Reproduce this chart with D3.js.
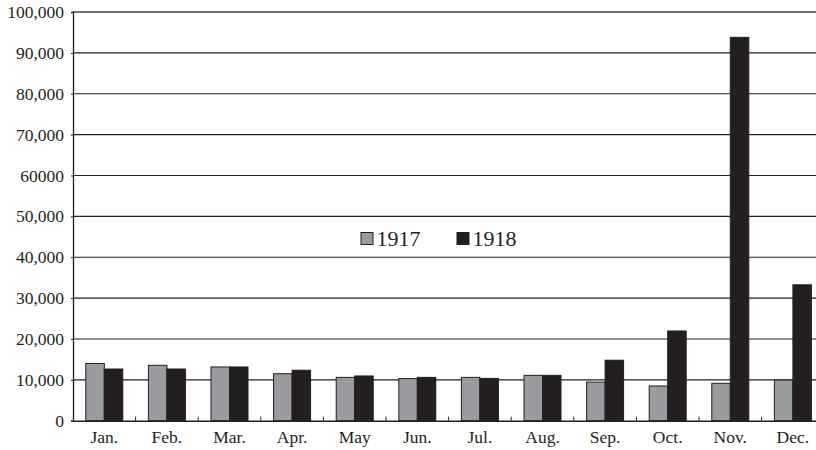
<!DOCTYPE html>
<html>
<head>
<meta charset="utf-8">
<script src="https://cdn.jsdelivr.net/npm/d3@7"></script>
<style>
  html, body { margin: 0; padding: 0; background: #fff; }
  svg { display: block; }
</style>
</head>
<body>
<svg id="chart" width="816" height="450"></svg>
<script>
const months = ["Jan.", "Feb.", "Mar.", "Apr.", "May", "Jun.", "Jul.", "Aug.", "Sep.", "Oct.", "Nov.", "Dec."];
const seriesNames = ["1917", "1918"];
const values1917 = [14000, 13550, 13150, 11500, 10600, 10300, 10600, 11100, 9450, 8500, 9150, 9950];
const values1918 = [12650, 12650, 13150, 12350, 10950, 10600, 10350, 11100, 14800, 21950, 93800, 33250];
const yTicks = [0, 10000, 20000, 30000, 40000, 50000, 60000, 70000, 80000, 90000, 100000];
const yTickLabels = ["0", "10,000", "20,000", "30,000", "40,000", "50,000", "60000", "70,000", "80,000", "90,000", "100,000"];
const colors = ["#9a9b9f", "#231f20"];

(function () {
const svg = d3.select("#chart");
const mLeft = 73, mTop = 12, mBottom = 420.7;
const bandW = 62.6;
const mRight = mLeft + bandW * months.length;

const x0 = d3.scaleBand().domain(months).range([mLeft, mRight]).paddingInner(0).paddingOuter(0);
const barW = 18.5;
const x1 = d3.scaleBand().domain(seriesNames).range([x0.bandwidth() / 2 - barW, x0.bandwidth() / 2 + barW]);
const y = d3.scaleLinear().domain([0, 100000]).range([mBottom, mTop]);

const font = "'Liberation Serif', 'DejaVu Serif', serif";

// gridlines
svg.append("g").selectAll("line")
  .data(yTicks.filter(d => d > 0 && d < 100000))
  .join("line")
  .attr("x1", mLeft).attr("x2", 816)
  .attr("y1", d => y(d)).attr("y2", d => y(d))
  .attr("stroke", "#231f20").attr("stroke-width", 1.1);

// top border
svg.append("line")
  .attr("x1", mLeft).attr("x2", 816)
  .attr("y1", y(100000)).attr("y2", y(100000))
  .attr("stroke", "#404040").attr("stroke-width", 1.6);

// bars
const data = months.map((m, i) => ({ month: m, vals: [values1917[i], values1918[i]] }));
const groups = svg.append("g").selectAll("g")
  .data(data).join("g")
  .attr("transform", d => `translate(${x0(d.month)},0)`);
groups.selectAll("rect")
  .data(d => d.vals.map((v, j) => ({ key: seriesNames[j], v, j })))
  .join("rect")
  .attr("x", d => x1(d.key))
  .attr("width", x1.bandwidth())
  .attr("y", d => y(d.v))
  .attr("height", d => y(0) - y(d.v))
  .attr("fill", d => colors[d.j])
  .attr("stroke", "#231f20")
  .attr("stroke-width", 1);

// y axis
const yAxis = d3.axisLeft(y).tickValues(yTicks)
  .tickFormat((d, i) => yTickLabels[i]).tickSize(2).tickPadding(7);
const yg = svg.append("g").attr("transform", `translate(${mLeft},0)`).call(yAxis);
yg.select(".domain").attr("stroke", "#231f20").attr("stroke-width", 1.3);
yg.selectAll(".tick line").attr("stroke", "#231f20");
yg.selectAll("text").attr("font-family", font).attr("font-size", 17.5).attr("fill", "#231f20");

// x axis baseline
const xAxis = d3.axisBottom(x0).tickSize(0).tickPadding(10);
const xg = svg.append("g").attr("transform", `translate(0,${mBottom})`).call(xAxis);
xg.select(".domain").attr("stroke", "#231f20").attr("stroke-width", 1.5);
xg.selectAll("text").attr("font-family", font).attr("font-size", 17.5).attr("fill", "#231f20");

// category separator ticks (pointing up)
svg.append("g").selectAll("line")
  .data(months.slice(1))
  .join("line")
  .attr("x1", d => x0(d)).attr("x2", d => x0(d))
  .attr("y1", mBottom).attr("y2", mBottom - 4)
  .attr("stroke", "#231f20").attr("stroke-width", 1);

// legend
const legendItems = [
  { name: seriesNames[0], color: colors[0], x: 361 },
  { name: seriesNames[1], color: colors[1], x: 457 }
];
const lg = svg.append("g");
legendItems.forEach(it => {
  lg.append("rect").attr("x", it.x).attr("y", 232.5).attr("width", 12).attr("height", 12)
    .attr("fill", it.color).attr("stroke", "#231f20").attr("stroke-width", 1);
  lg.append("text").attr("x", it.x + 15.5).attr("y", 245.5)
    .attr("font-family", font).attr("font-size", 22).attr("fill", "#231f20")
    .text(it.name);
});
})();
</script>
</body>
</html>
